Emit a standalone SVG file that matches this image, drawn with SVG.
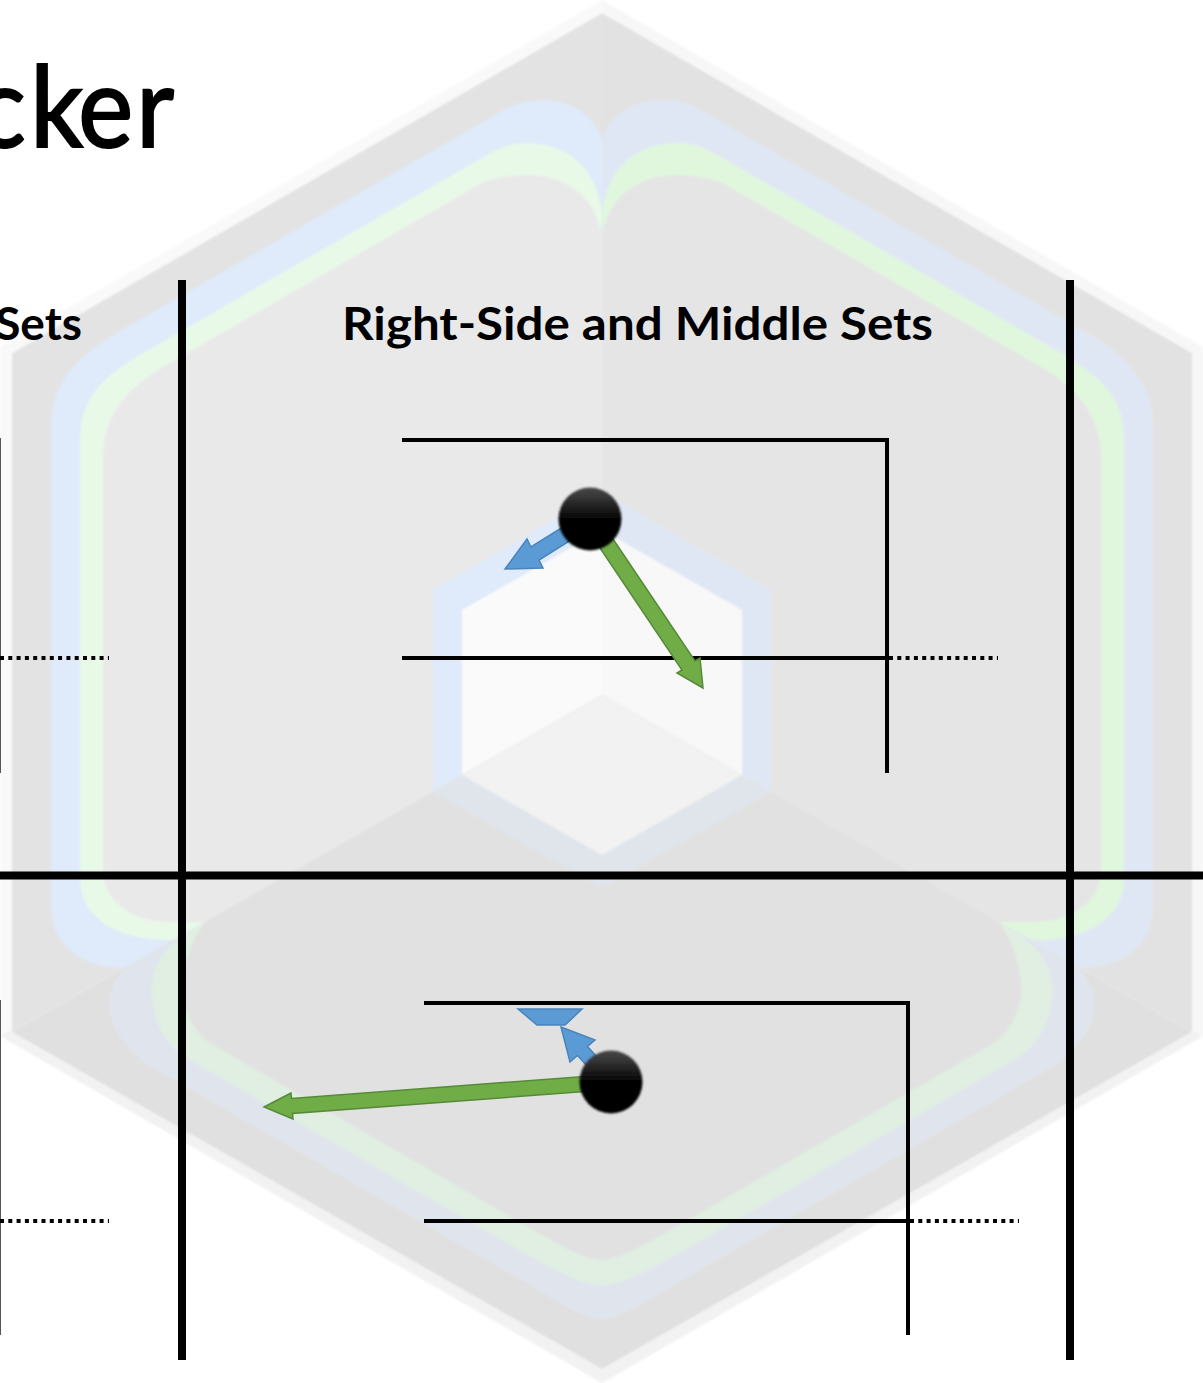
<svg xmlns="http://www.w3.org/2000/svg" xmlns:xlink="http://www.w3.org/1999/xlink" width="1203" height="1383" viewBox="0 0 1203 1383">
<style>
.title{font-family:Lato,"Open Sans","Liberation Sans",sans-serif;font-size:113px;fill:#000;stroke:#000;stroke-width:2.200}
.head{font-family:Lato,"Open Sans","Liberation Sans",sans-serif;font-size:46px;font-weight:700;fill:#000}
.frame{stroke:#000;stroke-width:8;fill:none}
.ln{stroke:#000;stroke-width:4;fill:none}
.thin{stroke:#555;stroke-width:2;fill:none}
.dot{stroke:#000;stroke-width:4;stroke-dasharray:4 4.300;fill:none}
.g{fill:#70ad47;stroke:#578a38;stroke-width:1.500}
.b{fill:#5b9bd5;stroke:#4a84ba;stroke-width:1.500}
.ball{fill:url(#ballg)}
</style>
<defs>
<linearGradient id="ballg" x1="0" y1="0" x2="0" y2="1"><stop offset="0" stop-color="#484848"/><stop offset="0.2" stop-color="#303030"/><stop offset="0.52" stop-color="#000"/><stop offset="1" stop-color="#000"/></linearGradient>
<filter id="soft" x="-10%" y="-10%" width="120%" height="120%"><feGaussianBlur stdDeviation="0.8"/></filter>
<filter id="hexblur" filterUnits="userSpaceOnUse" x="-20" y="-20" width="1243" height="1423"><feGaussianBlur stdDeviation="1"/></filter>
<clipPath id="cl"><path d="M602,13L12,353V1032L602,695Z"/></clipPath>
<clipPath id="cb"><path d="M602,695L12,1032L602,1369L1192,1032Z"/></clipPath>
<path id="lblue" d="M602,140C595,115 570,100 543,100C525,100 510,105 495,115L115,334C75,358 51,385 51,425L51,905C51,945 80,968 125,968L602,968Z"/>
<path id="lgreen" d="M602,240C600,235 602,215 602,215C598,170 570,143 525,143C510,143 500,148 485,156L150,349C105,375 80,395 80,440L80,880C80,915 115,940 165,940L602,940Z"/>
<path id="linner" d="M602,240C598,200 570,175 525,175C512,175 500,178 485,181L170,363C125,388 103,415 103,460L103,870C103,900 130,922 170,922L602,922Z"/>
<path id="lhexb" d="M602,492L433,590V800L602,800Z"/>
<path id="lhexw" d="M602,530L462,610V800L602,800Z"/>
</defs>
<rect width="1203" height="1383" fill="#fff"/>
<g id="hexagon" filter="url(#hexblur)">
<path d="M602,0L602,1383L0,1036V347Z" fill="#f9f9f9"/>
<path d="M602,0L1203,347V1036L602,1383Z" fill="#f7f7f7"/>
<path d="M602,695L0,1036L602,1383L1203,1036Z" fill="#f2f2f2"/>
<g clip-path="url(#cl)">
<path d="M602,13L12,353V1032L602,695Z" fill="#e3e3e3"/>
<use xlink:href="#lblue" fill="#dfeafa"/>
<use xlink:href="#lgreen" fill="#e8f9e8"/>
<use xlink:href="#linner" fill="#e9e9e9"/>
<use xlink:href="#lhexb" fill="#dfeafa"/>
<use xlink:href="#lhexw" fill="#fafafa"/>
</g>
<g transform="translate(1204,0) scale(-1,1)"><g clip-path="url(#cl)">
<path d="M602,13L12,353V1032L602,695Z" fill="#e2e2e2"/>
<use xlink:href="#lblue" fill="#e0e7f4"/>
<use xlink:href="#lgreen" fill="#e0f7de"/>
<use xlink:href="#linner" fill="#e5e5e5"/>
<use xlink:href="#lhexb" fill="#e0e7f4"/>
<use xlink:href="#lhexw" fill="#f8f8f8"/>
</g></g>
<g clip-path="url(#cb)">
<path d="M602,695L12,1032L602,1369L1192,1032Z" fill="#e0e0e0"/>
<path d="M602,600L190,930C135,955 110,975 110,1003C110,1030 125,1045 145,1063L530,1285C560,1303 585,1319 602,1319C619,1319 644,1303 674,1285L1059,1063C1079,1045 1094,1030 1094,1003C1094,975 1069,955 1014,930Z" fill="#e0e5ed"/>
<path d="M602,600L200,925C165,945 152,965 152,990C152,1020 165,1045 187,1058L530,1256C560,1273 585,1285 602,1285C619,1285 644,1273 674,1256L1017,1058C1039,1045 1052,1020 1052,990C1052,965 1039,945 1004,925Z" fill="#e0efe1"/>
<path d="M602,600L205,922C195,935 183,960 183,990C183,1012 195,1035 215,1046L530,1228C560,1245 585,1260 602,1260C619,1260 644,1245 674,1228L989,1046C1009,1035 1021,1012 1021,990C1021,960 1009,935 999,922Z" fill="#e1e1e1"/>
<path d="M602,695L433,792L602,888L771,792Z" fill="#e0e5ec"/>
<path d="M602,695L462,775L602,855L742,775Z" fill="#f2f2f2"/>
</g>
</g>
<g id="labels">
<text class="title" transform="scale(0.92,1)" x="-26 33 85 148" y="147">cker</text>
<text class="head" x="82" y="340" text-anchor="end">Sets</text>
<text class="head" x="342" y="340" textLength="591" lengthAdjust="spacingAndGlyphs">Right-Side and Middle Sets</text>
</g>
<g id="connectors">
<path class="frame" d="M182,280V1360M1070,280V1360M0,875.500H1203"/>
<path class="ln" d="M402,440H887V773M402,658H887"/>
<path class="dot" d="M889,658H998"/>
<path class="ln" d="M424,1003H908V1335M424,1221H908"/>
<path class="dot" d="M910,1221H1019"/>
<path class="thin" d="M0,438V773M0,1000V1335"/>
<path class="dot" d="M0,658H109M0,1221H109"/>
<polygon class="g" points="596.500,514.500 695,661 700,658 703,688 677,673 682,670 583.500,523.500"/>
<polygon class="b" points="594,525.500 539,560 543,568 505,569 527,539 531,547 586,512.500"/>
<polygon class="g" points="611.500,1089.500 292.500,1113.500 293,1119 264,1107 291,1093 291.500,1098.500 610.500,1074.500"/>
<polygon class="b" points="616,1077.500 587.500,1046.500 595,1040 561,1027 570,1062 577.500,1055.500 606,1086.500"/>
<polygon class="b" points="518,1009 582,1009 565,1025 537,1025"/>
</g>
<g id="node-upper"><circle class="ball" cx="590" cy="519" r="31.500" filter="url(#soft)"/></g>
<g id="node-lower"><circle class="ball" cx="611" cy="1082" r="31.500" filter="url(#soft)"/></g>
</svg>
